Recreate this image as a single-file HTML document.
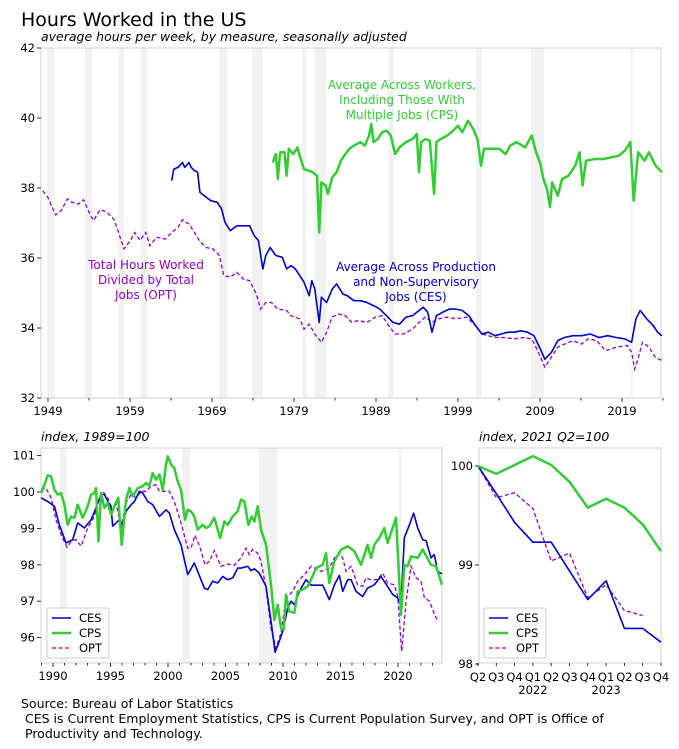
<!DOCTYPE html>
<html><head><meta charset="utf-8"><style>
html,body{margin:0;padding:0;background:#fff;}
svg{display:block;font-family:"DejaVu Sans","Liberation Sans",sans-serif;}
</style></head><body>
<svg id="chart" width="679" height="749" viewBox="0 0 679 749" xmlns="http://www.w3.org/2000/svg">
<text x="21" y="26" font-size="19" fill="#000">Hours Worked in the US</text>
<text x="41" y="41" font-size="12.5" font-style="italic" fill="#000">average hours per week, by measure, seasonally adjusted</text>
<text x="41" y="441" font-size="12.5" font-style="italic">index, 1989=100</text>
<text x="479" y="441" font-size="12.5" font-style="italic">index, 2021 Q2=100</text>
<g font-size="12.5">
<text x="21" y="708">Source: Bureau of Labor Statistics</text>
<text x="25" y="723">CES is Current Employment Statistics, CPS is Current Population Survey, and OPT is Office of</text>
<text x="25" y="738">Productivity and Technology.</text>
</g>
<g id="top"></g><g id="bl"></g><g id="br"></g>
</svg>
<script>
// ---------- top chart data ----------
const recessions = [[1948.9,1949.8],[1953.5,1954.4],[1957.6,1958.3],[1960.3,1961.1],[1969.9,1970.9],[1973.9,1975.2],[1980.0,1980.5],[1981.5,1982.9],[1990.5,1991.2],[2001.2,2001.9],[2007.9,2009.5],[2020.1,2020.3]];
const optYears = [1948.37,1949.0,1949.42,1949.95,1950.59,1951.38,1951.91,1952.7,1953.34,1954.03,1954.56,1955.35,1956.14,1957.04,1957.57,1958.26,1959.05,1959.58,1960.22,1960.91,1961.43,1962.23,1963.29,1964.08,1964.87,1965.4,1966.2,1966.73,1967.52,1968.31,1969.11,1969.9,1970.43,1971.22,1972.02,1972.81,1973.6,1974.4,1974.93,1975.56,1976.25,1977.04,1978.1,1978.63,1979.69,1980.22,1980.85,1981.54,1982.34,1982.97,1983.66,1984.45,1985.25,1986.04,1986.83,1987.89,1988.95,1989.74,1990.54,1991.33,1992.39,1993.45,1994.24,1995.03,1995.83,1996.62,1997.68,1998.74,2000.06,2001.12,2001.91,2002.71,2003.5,2004.56,2005.88,2006.94,2008.0,2008.79,2009.58,2010.38,2011.17,2011.97,2013.02,2014.08,2014.87,2015.93,2016.99,2018.31,2019.64,2020.17,2020.54,2020.96,2021.49,2022.28,2023.08,2023.87];
const optHours = [37.92,37.73,37.49,37.23,37.35,37.69,37.59,37.54,37.66,37.30,37.07,37.38,37.32,37.11,36.75,36.26,36.50,36.73,36.50,36.73,36.35,36.59,36.54,36.73,36.88,37.09,36.97,36.78,36.47,36.30,36.26,36.07,35.50,35.45,35.59,35.40,35.35,34.97,34.54,34.73,34.73,34.54,34.50,34.35,34.26,33.97,34.11,33.83,33.59,33.88,34.31,34.40,34.35,34.16,34.21,34.16,34.31,34.35,34.07,33.83,33.83,33.97,34.16,34.31,34.16,34.26,34.31,34.26,34.31,34.07,33.83,33.78,33.73,33.73,33.69,33.73,33.69,33.31,32.88,33.16,33.45,33.54,33.64,33.54,33.69,33.64,33.35,33.45,33.50,33.31,32.83,33.12,33.59,33.45,33.16,33.07];
const cesYears = [1964.08,1964.34,1964.87,1965.4,1965.67,1966.2,1966.46,1966.83,1967.25,1967.52,1968.05,1968.84,1969.64,1970.17,1970.59,1971.22,1972.02,1972.81,1973.6,1974.13,1974.66,1975.19,1975.56,1976.09,1976.78,1977.57,1978.1,1978.63,1979.16,1979.69,1980.22,1980.85,1981.17,1981.54,1982.07,1982.34,1982.97,1983.66,1984.19,1984.98,1985.51,1986.3,1987.1,1987.89,1988.69,1989.48,1990.27,1991.07,1991.86,1992.65,1993.45,1994.24,1994.77,1995.3,1995.83,1996.36,1997.15,1997.94,1998.74,1999.53,2000.32,2001.12,2001.91,2002.71,2003.5,2004.29,2005.09,2005.88,2006.67,2007.47,2008.26,2009.05,2009.58,2010.38,2011.17,2011.97,2013.02,2014.08,2015.14,2016.2,2017.26,2018.31,2019.37,2020.17,2020.7,2021.22,2022.02,2022.81,2023.34,2023.87];
const cesHours = [38.21,38.54,38.59,38.73,38.59,38.73,38.59,38.50,38.45,37.88,37.78,37.64,37.59,37.40,37.02,36.78,36.92,36.92,36.92,36.64,36.50,35.69,36.07,36.30,36.07,36.02,35.69,35.78,35.69,35.50,35.31,34.92,35.35,35.11,34.16,34.88,34.73,35.11,35.26,34.97,34.92,34.78,34.78,34.73,34.64,34.54,34.35,34.16,34.11,34.31,34.35,34.50,34.59,34.45,33.88,34.35,34.45,34.54,34.54,34.50,34.35,34.07,33.83,33.88,33.78,33.83,33.88,33.88,33.92,33.88,33.78,33.40,33.11,33.30,33.64,33.73,33.78,33.78,33.83,33.73,33.78,33.73,33.69,33.59,34.26,34.50,34.26,34.07,33.88,33.78];
const cpsYears = [1976.41,1976.78,1977.04,1977.31,1977.84,1978.1,1978.37,1978.9,1979.42,1979.69,1980.22,1980.75,1981.28,1981.81,1982.07,1982.34,1982.86,1983.13,1983.66,1984.19,1984.72,1985.25,1985.77,1986.3,1987.1,1987.63,1988.16,1988.42,1988.69,1989.21,1989.74,1990.27,1990.8,1991.33,1991.86,1992.65,1993.45,1993.98,1994.24,1994.5,1995.03,1995.56,1996.09,1996.36,1996.89,1997.68,1998.21,1999.0,1999.53,2000.22,2000.85,2001.38,2001.8,2002.17,2002.97,2004.03,2004.82,2005.35,2006.14,2007.2,2007.99,2008.52,2009.05,2009.42,2009.85,2010.22,2010.48,2011.17,2011.7,2012.49,2013.29,2013.82,2014.19,2014.61,2015.67,2016.73,2017.78,2018.58,2019.37,2020.01,2020.43,2020.96,2021.75,2022.28,2023.08,2023.87];
const cpsHours = [38.73,38.97,38.26,39.02,39.02,38.35,39.12,38.97,39.16,38.92,38.54,38.50,38.45,38.35,36.73,38.16,38.07,37.83,38.30,38.45,38.78,38.97,39.12,39.21,39.31,39.21,39.50,39.83,39.31,39.40,39.59,39.64,39.50,38.97,39.16,39.31,39.40,39.54,38.45,39.31,39.40,39.35,37.83,39.31,39.40,39.50,39.59,39.78,39.59,39.92,39.69,39.40,38.64,39.12,39.12,39.12,38.97,39.21,39.31,39.16,39.50,39.02,38.69,38.26,37.97,37.45,38.16,37.78,38.26,38.35,38.64,39.02,38.07,38.78,38.83,38.83,38.88,38.92,39.07,39.31,37.64,39.02,38.78,39.02,38.64,38.45];
const topYTicks = [32,34,36,38,40,42];
const topXTicks = [1949,1959,1969,1979,1989,1999,2009,2019];

// ---------- bottom-left (index 1989=100) ----------
const blRecessions = [[1990.6,1991.2],[2001.2,2001.9],[2007.9,2009.5],[2020.1,2020.3]];
const blCesYears = [1988.96,1989.54,1990.12,1990.55,1991.13,1991.71,1992.15,1992.73,1993.31,1993.74,1994.18,1994.47,1995.05,1995.19,1995.77,1996.06,1996.35,1996.79,1997.08,1997.51,1997.8,1998.24,1998.67,1999.25,1999.83,2000.12,2000.55,2001.13,2001.71,2002.29,2002.58,2003.16,2003.45,2003.88,2004.32,2004.76,2005.19,2005.63,2006.06,2006.35,2006.93,2007.22,2007.51,2007.94,2008.52,2008.96,2009.31,2009.68,2009.97,2010.41,2010.70,2010.99,2011.42,2012.0,2012.44,2013.45,2014.03,2014.47,2014.9,2015.19,2015.63,2015.92,2016.35,2016.93,2017.36,2017.94,2018.52,2018.96,2019.54,2019.97,2020.26,2020.55,2020.99,2021.36,2021.71,2022.15,2022.44,2022.87,2023.16,2023.45,2023.83];
const blCesVals = [99.84,99.74,99.61,99.10,98.60,98.69,99.15,99.01,99.24,99.56,99.93,99.93,99.56,99.06,99.24,99.10,99.47,99.65,99.74,100.02,99.97,99.74,99.65,99.33,99.51,99.42,98.97,98.55,97.73,98.05,97.82,97.36,97.32,97.55,97.50,97.68,97.59,97.64,97.91,97.91,97.96,97.84,97.89,97.77,97.41,96.45,95.60,95.90,96.17,96.81,97.0,96.90,97.27,97.59,97.44,97.44,97.04,97.45,97.71,97.27,97.59,97.59,97.27,97.13,97.36,97.45,97.68,97.47,97.18,97.09,96.90,98.74,99.10,99.42,99.01,98.69,98.66,98.19,98.28,97.82,97.75];
const blCpsYears = [1988.96,1989.25,1989.54,1989.83,1990.12,1990.41,1990.7,1990.99,1991.28,1991.57,1991.86,1992.15,1992.58,1993.02,1993.31,1993.6,1993.74,1993.95,1994.18,1994.47,1994.76,1995.05,1995.34,1995.68,1995.97,1996.35,1996.64,1996.93,1997.37,1997.8,1998.09,1998.38,1998.67,1998.96,1999.25,1999.54,1999.83,1999.98,2000.27,2000.55,2000.84,2001.13,2001.48,2001.71,2002.0,2002.29,2002.58,2003.02,2003.31,2003.6,2004.03,2004.53,2004.9,2005.19,2005.63,2006.06,2006.35,2006.64,2006.99,2007.28,2007.51,2007.8,2008.09,2008.52,2008.96,2009.25,2009.54,2009.83,2010.06,2010.26,2010.55,2010.99,2011.28,2011.71,2012.15,2012.44,2012.87,2013.45,2013.74,2014.03,2014.47,2015.05,2015.63,2016.21,2016.78,2017.36,2017.65,2017.94,2018.38,2018.81,2019.1,2019.83,2020.26,2020.55,2020.84,2021.13,2021.71,2022.15,2022.87,2023.31,2023.83];
const blCpsVals = [99.97,100.2,100.46,100.43,100.06,99.93,99.97,99.65,99.10,99.33,99.29,99.65,99.29,99.61,99.93,99.97,100.11,98.64,99.97,99.56,99.70,99.38,99.61,99.84,98.55,99.79,100.11,99.88,100.11,100.16,100.25,100.16,100.52,100.34,100.48,100.06,100.75,100.98,100.75,100.66,100.29,100.06,99.24,99.51,99.47,99.33,98.97,99.10,99.01,99.06,99.29,98.74,99.19,99.10,99.33,99.47,99.79,99.74,99.10,99.33,99.19,99.61,98.97,98.55,97.45,96.49,96.90,96.26,96.22,97.18,96.72,96.68,97.27,97.32,97.41,97.59,97.91,98.0,98.32,97.5,98.1,98.42,98.51,98.37,98.0,98.55,98.19,98.55,98.74,99.01,98.6,99.29,96.63,98.0,97.96,98.23,98.19,98.42,98.0,97.96,97.45];
const blOptYears = [1988.96,1989.39,1989.83,1990.26,1990.7,1991.22,1991.57,1992.0,1992.44,1993.02,1993.6,1994.03,1994.32,1994.76,1995.19,1995.48,1995.92,1996.35,1996.79,1997.22,1997.66,1998.09,1998.53,1998.96,1999.25,1999.68,2000.12,2000.55,2001.13,2001.71,2002.0,2002.35,2002.81,2003.22,2003.6,2004.03,2004.61,2005.19,2005.77,2006.35,2006.78,2007.07,2007.36,2007.8,2008.09,2008.52,2008.96,2009.39,2009.83,2010.26,2010.84,2011.28,2011.86,2012.44,2013.31,2014.03,2014.47,2014.9,2015.19,2015.48,2015.92,2016.49,2016.93,2017.22,2017.65,2018.23,2018.67,2019.1,2019.68,2019.97,2020.32,2020.7,2021.13,2021.57,2022.0,2022.3,2022.73,2023.31,2023.6];
const blOptVals = [100.06,100.11,99.84,99.24,98.83,98.48,98.64,98.69,98.51,99.01,99.33,99.84,100.02,99.84,99.51,99.70,99.01,99.70,99.93,99.84,100.02,100.02,100.16,100.2,100.02,100.02,100.02,99.74,99.15,98.46,98.46,98.81,98.46,98.0,98.1,98.39,97.96,98.02,97.99,98.19,98.46,98.28,98.42,98.32,98.10,97.36,96.26,95.71,96.13,97.09,97.27,97.55,97.73,97.96,97.82,97.91,98.19,98.32,98.19,97.82,97.96,97.45,97.41,97.64,97.59,97.59,97.77,97.5,97.45,97.13,95.62,97.0,97.96,97.64,97.55,97.09,97.0,96.54,96.45];
const blYTicks = [96,97,98,99,100,101];
const blXTicks = [1990,1995,2000,2005,2010,2015,2020];

// ---------- bottom-right (index 2021 Q2=100) ----------
const qLabels = ["Q2","Q3","Q4","Q1","Q2","Q3","Q4","Q1","Q2","Q3","Q4"];
const qYears = ["","","","2022","","","","2023","","",""];
const brCes = [100,99.72,99.43,99.23,99.23,98.94,98.65,98.84,98.36,98.36,98.22];
const brCps = [100,99.92,100.01,100.1,100.01,99.84,99.58,99.67,99.58,99.41,99.14];
const brOpt = [100,99.68,99.73,99.57,99.04,99.12,98.67,98.80,98.54,98.49];
const brYTicks = [98,99,100];

const NS = "http://www.w3.org/2000/svg";
function mk(parent, tag, attrs, text){
  const e = document.createElementNS(NS, tag);
  for (const k in attrs) e.setAttribute(k, attrs[k]);
  if (text !== undefined) e.textContent = text;
  parent.appendChild(e);
  return e;
}
const COL = {ces:"#0000cc", cps:"#33cc33", opt:"#9400d3"};
const STY = {
  ces:{"stroke":COL.ces,"stroke-width":1.6,"fill":"none","stroke-linejoin":"round"},
  cps:{"stroke":COL.cps,"stroke-width":2.5,"fill":"none","stroke-linejoin":"round"},
  opt:{"stroke":COL.opt,"stroke-width":1.3,"fill":"none","stroke-dasharray":"4,2.5"}
};
function frame(g, L, T, R, B){
  const r = mk(g, "rect", {x:L, y:T, width:R-L, height:B-T, fill:"none", stroke:"#d0d0d0", "stroke-width":1});
  
  
}
function line(g, xs, ys, xf, yf, key, name){
  const d = xs.map((x,i)=>(i?"L":"M")+xf(x).toFixed(1)+","+yf(ys[i]).toFixed(1)).join("");
  const p = mk(g, "path", Object.assign({d:d}, STY[key]));
  
  
}
function bands(g, list, xf, T, B, name){
  list.forEach(r=>{
    const b = mk(g, "rect", {x:xf(r[0]), y:T, width:Math.max(1.5, xf(r[1])-xf(r[0])), height:B-T, fill:"#f2f2f2"});
    
    
  });
}
function yaxis(g, ticks, yf, L, name){
  ticks.forEach(t=>{
    mk(g, "line", {x1:L-4, x2:L, y1:yf(t), y2:yf(t), stroke:"#000", "stroke-width":0.8});
    const tx = mk(g, "text", {x:L-6, y:yf(t)+4, "font-size":11.5, "text-anchor":"end"}, String(t));
    
    
  });
}
function legend(g, x, y){
  const box = mk(g, "rect", {x:x, y:y, width:62, height:50, rx:2, fill:"#fff", "fill-opacity":0.85, stroke:"#ccc"});
  
  
  [["CES","ces"],["CPS","cps"],["OPT","opt"]].forEach((e,i)=>{
    const yy = y+10+i*15;
    const ln = mk(g, "line", Object.assign({x1:x+5, x2:x+24, y1:yy, y2:yy}, STY[e[1]]));
    
    
    const t = mk(g, "text", {x:x+32, y:yy+4, "font-size":11.5}, e[0]);
    
    
  });
}

// ===== top chart =====
(function(){
  const g = document.getElementById("top");
  const L=41,R=661,T=48,B=398;
  const xf = yr => 48 + (yr-1949)*8.2;
  const yf = v => B - (v-32)*35;
  bands(g, recessions, xf, T, B, 'recession-band');
  frame(g, L, T, R, B);
  yaxis(g, topYTicks, yf, L, 'y-tick-label');
  for (let y=1949; y<=2024; y+=5){
    mk(g, "line", {x1:xf(y), x2:xf(y), y1:B, y2:B+(((y-1949)%10)?2.5:4), stroke:"#000", "stroke-width":0.8});
  }
  topXTicks.forEach(t=>{
    const tx = mk(g, "text", {x:xf(t), y:B+17, "font-size":11.5, "text-anchor":"middle"}, String(t));
    
    
  });
  line(g, optYears, optHours, xf, yf, "opt", "opt-line");
  line(g, cesYears, cesHours, xf, yf, "ces", "ces-line");
  line(g, cpsYears, cpsHours, xf, yf, "cps", "cps-line");
  const ann = [
    [402, 89, COL.cps, ["Average Across Workers,","Including Those With","Multiple Jobs (CPS)"], 'cps-annotation'],
    [146, 269, COL.opt, ["Total Hours Worked","Divided by Total","Jobs (OPT)"], 'opt-annotation'],
    [416, 271, COL.ces, ["Average Across Production","and Non-Supervisory","Jobs (CES)"], 'ces-annotation']
  ];
  ann.forEach(a=>{
    const t = mk(g, "text", {x:a[0], y:a[1], "font-size":12, fill:a[2], "text-anchor":"middle"});
    
    
    a[3].forEach((s,i)=> mk(t, "tspan", {x:a[0], y:a[1]+i*15}, s));
  });
})();

// ===== bottom-left =====
(function(){
  const g = document.getElementById("bl");
  const L=41,R=442,T=448,B=663;
  const xf = yr => 53 + (yr-1990)*11.5;
  const yf = v => 492 - (v-100)*36.4;
  bands(g, blRecessions, xf, T, B, 'recession-band');
  frame(g, L, T, R, B);
  yaxis(g, blYTicks, yf, L, 'left-y-tick-label');
  for (let y=1989; y<=2023; y++){
    mk(g, "line", {x1:xf(y), x2:xf(y), y1:B, y2:B+((y%5)?2.5:4), stroke:"#000", "stroke-width":0.8});
  }
  blXTicks.forEach(t=>{
    const tx = mk(g, "text", {x:xf(t), y:B+17, "font-size":11.5, "text-anchor":"middle"}, String(t));
    
    
  });
  line(g, blOptYears, blOptVals, xf, yf, "opt", "left-opt-line");
  line(g, blCesYears, blCesVals, xf, yf, "ces", "left-ces-line");
  line(g, blCpsYears, blCpsVals, xf, yf, "cps", "left-cps-line");
  legend(g, 47, 608);
})();

// ===== bottom-right =====
(function(){
  const g = document.getElementById("br");
  const L=479,R=661,T=448,B=663;
  const xf = q => 478 + q*18.3;
  const yf = v => 466 + (100-v)*99;
  frame(g, L, T, R, B);
  yaxis(g, brYTicks, yf, L, 'right-y-tick-label');
  qLabels.forEach((q,i)=>{
    mk(g, "line", {x1:xf(i), x2:xf(i), y1:B, y2:B+3, stroke:"#000", "stroke-width":0.8});
    const t = mk(g, "text", {x:xf(i), y:B+18, "font-size":11.5, "text-anchor":"middle"}, q);
    
    
    if (qYears[i]){
      const y = mk(g, "text", {x:xf(i), y:B+31, "font-size":11.5, "text-anchor":"middle"}, qYears[i]);
      
      
    }
  });
  const idx = a => a.map((_,i)=>i);
  line(g, idx(brOpt), brOpt, xf, yf, "opt", "right-opt-line");
  line(g, idx(brCes), brCes, xf, yf, "ces", "right-ces-line");
  line(g, idx(brCps), brCps, xf, yf, "cps", "right-cps-line");
  legend(g, 484, 608);
})();
</script>
</body></html>
